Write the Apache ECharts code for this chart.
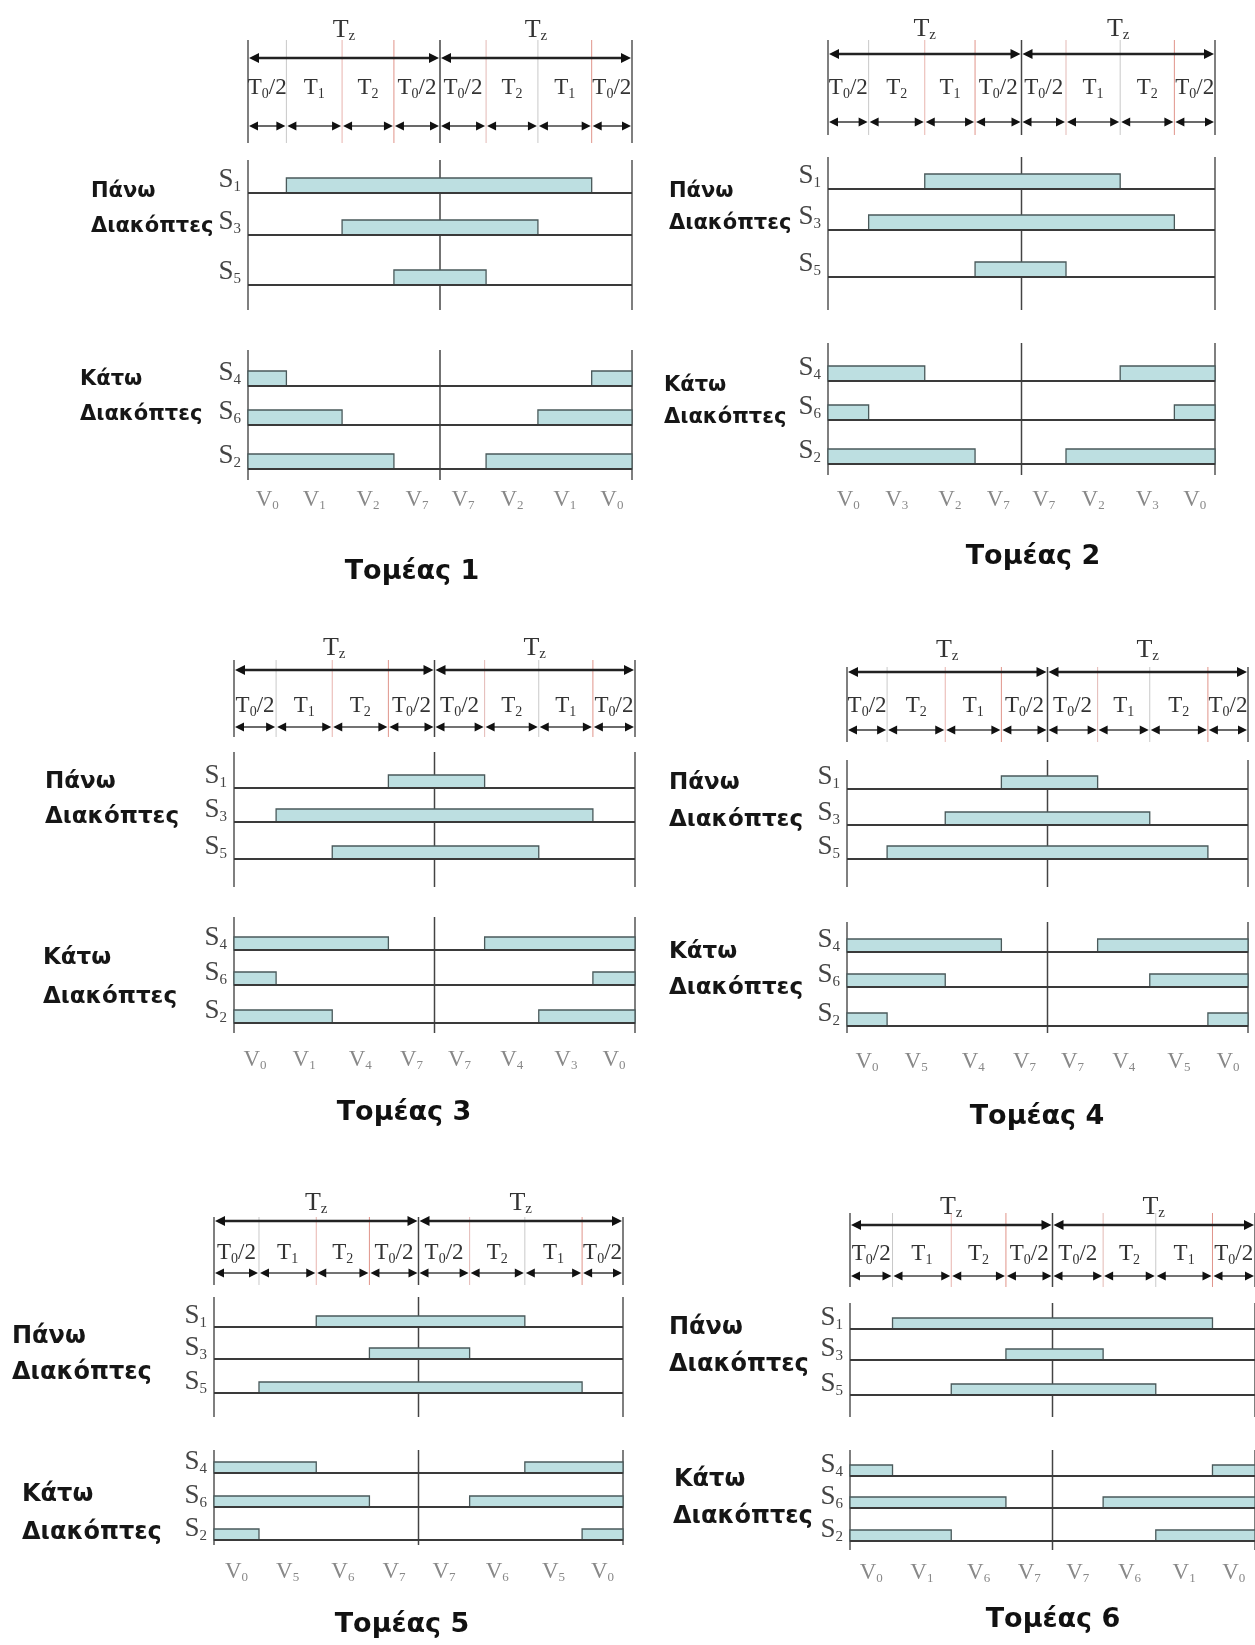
<!DOCTYPE html>
<html>
<head>
<meta charset="utf-8">
<title>Τομείς SVPWM</title>
<script src="https://cdn.jsdelivr.net/npm/echarts@6/dist/echarts.min.js"></script>
<style>
  html, body { margin: 0; padding: 0; background: #fff; }
  #chart { width: 1255px; height: 1645px; }
</style>
</head>
<body>
<div id="chart"></div>
<script>
// switching instants inside one period, in units of Tz (0..2)
const edges1 = [0, 0.20, 0.49, 0.76, 1, 1.24, 1.51, 1.79, 2];
const edges2 = [0, 0.21, 0.50, 0.76, 1, 1.23, 1.51, 1.79, 2];
const edges3 = [0, 0.21, 0.49, 0.77, 1, 1.25, 1.52, 1.79, 2];
const edges4 = [0, 0.20, 0.49, 0.77, 1, 1.25, 1.51, 1.80, 2];
const edges5 = [0, 0.22, 0.50, 0.76, 1, 1.25, 1.52, 1.80, 2];
const edges6 = [0, 0.21, 0.50, 0.77, 1, 1.25, 1.51, 1.79, 2];

// segment labels
const segs1 = ['T0/2', 'T1', 'T2', 'T0/2', 'T0/2', 'T2', 'T1', 'T0/2'];
const segs2 = ['T0/2', 'T2', 'T1', 'T0/2', 'T0/2', 'T1', 'T2', 'T0/2'];
const segs3 = ['T0/2', 'T1', 'T2', 'T0/2', 'T0/2', 'T2', 'T1', 'T0/2'];
const segs4 = ['T0/2', 'T2', 'T1', 'T0/2', 'T0/2', 'T1', 'T2', 'T0/2'];
const segs5 = ['T0/2', 'T1', 'T2', 'T0/2', 'T0/2', 'T2', 'T1', 'T0/2'];
const segs6 = ['T0/2', 'T1', 'T2', 'T0/2', 'T0/2', 'T2', 'T1', 'T0/2'];

// voltage vectors under each segment
const vecs1 = ['V0', 'V1', 'V2', 'V7', 'V7', 'V2', 'V1', 'V0'];
const vecs2 = ['V0', 'V3', 'V2', 'V7', 'V7', 'V2', 'V3', 'V0'];
const vecs3 = ['V0', 'V1', 'V4', 'V7', 'V7', 'V4', 'V3', 'V0'];
const vecs4 = ['V0', 'V5', 'V4', 'V7', 'V7', 'V4', 'V5', 'V0'];
const vecs5 = ['V0', 'V5', 'V6', 'V7', 'V7', 'V6', 'V5', 'V0'];
const vecs6 = ['V0', 'V1', 'V6', 'V7', 'V7', 'V6', 'V1', 'V0'];

// edge index where S1, S3, S5 turn on (they turn off at the mirrored edge);
// S4, S6, S2 are the complements
const upperOn1 = [1, 2, 3];
const upperOn2 = [2, 1, 3];
const upperOn3 = [3, 1, 2];
const upperOn4 = [3, 2, 1];
const upperOn5 = [2, 3, 1];
const upperOn6 = [1, 3, 2];

const upperNames = ['S1', 'S3', 'S5'];
const lowerNames = ['S4', 'S6', 'S2'];
const groupNames = ['Πάνω', 'Διακόπτες', 'Κάτω', 'Διακόπτες'];
const sectorNames = ['Τομέας 1', 'Τομέας 2', 'Τομέας 3', 'Τομέας 4', 'Τομέας 5', 'Τομέας 6'];

const sectors = [
  { edges: edges1, segs: segs1, vecs: vecs1, on: upperOn1 },
  { edges: edges2, segs: segs2, vecs: vecs2, on: upperOn2 },
  { edges: edges3, segs: segs3, vecs: vecs3, on: upperOn3 },
  { edges: edges4, segs: segs4, vecs: vecs4, on: upperOn4 },
  { edges: edges5, segs: segs5, vecs: vecs5, on: upperOn5 },
  { edges: edges6, segs: segs6, vecs: vecs6, on: upperOn6 }
];

// page layout of each panel (pixels)
const panels = [
  { left: 248, right: 632, tz: 30, arrow: 58, seg: 88, small: 126, div: [40, 143],
    up: [160, 310], rowsUp: [193, 235, 285], low: [350, 480], rowsLow: [386, 425, 469],
    v: 500, barH: 15, sOff: 13, lf: 21, title: [412, 572],
    labels: [[91, 192], [91, 227], [80, 380], [80, 415]] },
  { left: 828, right: 1215, tz: 29, arrow: 54, seg: 88, small: 122, div: [40, 135],
    up: [157, 310], rowsUp: [189, 230, 277], low: [343, 475], rowsLow: [381, 420, 464],
    v: 500, barH: 15, sOff: 13, lf: 21, title: [1033, 557],
    labels: [[669, 192], [669, 224], [664, 386], [664, 418]] },
  { left: 234, right: 635, tz: 648, arrow: 670, seg: 706, small: 727, div: [660, 737],
    up: [752, 887], rowsUp: [788, 822, 859], low: [917, 1033], rowsLow: [950, 985, 1023],
    v: 1060, barH: 13, sOff: 12, lf: 23, title: [404, 1113],
    labels: [[45, 782], [45, 817], [43, 958], [43, 997]] },
  { left: 847, right: 1248, tz: 650, arrow: 672, seg: 706, small: 730, div: [667, 742],
    up: [760, 887], rowsUp: [789, 825, 859], low: [922, 1033], rowsLow: [952, 987, 1026],
    v: 1062, barH: 13, sOff: 12, lf: 23, title: [1037, 1117],
    labels: [[669, 783], [669, 820], [669, 952], [669, 988]] },
  { left: 214, right: 623, tz: 1203, arrow: 1221, seg: 1253, small: 1273, div: [1217, 1285],
    up: [1297, 1417], rowsUp: [1327, 1359, 1393], low: [1450, 1545], rowsLow: [1473, 1507, 1540],
    v: 1572, barH: 11, sOff: 11, lf: 24, title: [402, 1625],
    labels: [[12, 1337], [12, 1373], [22, 1495], [22, 1533]] },
  { left: 850, right: 1258, tz: 1207, arrow: 1225, seg: 1254, small: 1276, div: [1213, 1287],
    up: [1303, 1417], rowsUp: [1329, 1360, 1395], low: [1450, 1550], rowsLow: [1476, 1508, 1541],
    v: 1573, barH: 11, sOff: 11, lf: 24, title: [1053, 1620],
    labels: [[669, 1328], [669, 1365], [674, 1480], [673, 1517]] }
];

const divColors = ['#555', '#c9c9c9', '#e8b4ae', '#e0948a', '#444', '#e3b9b5', '#c9c9c9', '#e0948a', '#555'];

function richText(s) {
  // 'T0/2' -> T with subscript 0 then /2
  const m = s.match(/^([A-Z])(\w)(.*)$/);
  return '{a|' + m[1] + '}{b|' + m[2] + '}' + (m[3] ? '{a|' + m[3] + '}' : '');
}

function richStyle(size, sub, color) {
  return {
    a: { fontSize: size, fontFamily: 'Liberation Serif', fill: color },
    b: { fontSize: sub, fontFamily: 'Liberation Serif', fill: color, padding: [Math.round(size * 0.5), 0, 0, 0] }
  };
}

const textStyles = {
  tz: richStyle(26, 15, '#333'),
  seg: richStyle(23, 14, '#333'),
  vec: richStyle(23, 13, '#888'),
  sw: richStyle(27, 15, '#444')
};

const grids = [], xAxes = [], yAxes = [], series = [], graphic = [];

panels.forEach((L, p) => {
  const S = sectors[p];
  grids.push({ left: L.left, top: 0, width: L.right - L.left, height: 1645 });
  xAxes.push({ type: 'value', gridIndex: p, min: 0, max: 2, show: false });
  yAxes.push({ type: 'value', gridIndex: p, min: 0, max: 1645, inverse: true, show: false });
  const base = { type: 'custom', xAxisIndex: p, yAxisIndex: p, silent: true, animation: false, clip: false };

  // vertical lines: header dividers and block borders
  const frame = [];
  S.edges.forEach((t, i) => frame.push([t, L.div[0], L.div[1], i]));
  [0, 1, 2].forEach(t => {
    frame.push([t, L.up[0], L.up[1], t === 1 ? 4 : 0]);
    frame.push([t, L.low[0], L.low[1], t === 1 ? 4 : 0]);
  });
  series.push(Object.assign({}, base, {
    data: frame,
    renderItem: (params, api) => {
      const a = api.coord([api.value(0), api.value(1)]);
      const b = api.coord([api.value(0), api.value(2)]);
      const k = api.value(3);
      const outer = k % 4 === 0;
      return {
        type: 'line',
        shape: { x1: a[0], y1: a[1], x2: b[0], y2: b[1] },
        style: { stroke: divColors[k], lineWidth: outer ? 1.5 : 1 }
      };
    }
  }));

  // switch-on bars
  const bars = [];
  S.on.forEach((k, r) => {
    bars.push([S.edges[k], S.edges[8 - k], L.rowsUp[r]]);
    bars.push([S.edges[0], S.edges[k], L.rowsLow[r]]);
    bars.push([S.edges[8 - k], S.edges[8], L.rowsLow[r]]);
  });
  series.push(Object.assign({}, base, {
    data: bars,
    renderItem: (params, api) => {
      const a = api.coord([api.value(0), api.value(2)]);
      const b = api.coord([api.value(1), api.value(2)]);
      return {
        type: 'rect',
        shape: { x: a[0], y: a[1] - L.barH, width: b[0] - a[0], height: L.barH },
        style: { fill: '#bddfe1', stroke: '#4a5a5b', lineWidth: 1.3 }
      };
    }
  }));

  // baselines of every switch
  const rows = L.rowsUp.concat(L.rowsLow);
  series.push(Object.assign({}, base, {
    data: rows.map(y => [y]),
    renderItem: (params, api) => {
      const a = api.coord([0, api.value(0)]);
      const b = api.coord([2, api.value(0)]);
      return {
        type: 'line',
        shape: { x1: a[0], y1: a[1], x2: b[0], y2: b[1] },
        style: { stroke: '#3a3a3a', lineWidth: 1.8 }
      };
    }
  }));

  // dimension arrows
  const arrows = [[0, 1, L.arrow, 1], [1, 2, L.arrow, 1]];
  for (let i = 0; i < 8; i++) arrows.push([S.edges[i], S.edges[i + 1], L.small, 0]);
  series.push(Object.assign({}, base, {
    data: arrows,
    renderItem: (params, api) => {
      const a = api.coord([api.value(0), api.value(2)]);
      const b = api.coord([api.value(1), api.value(2)]);
      const big = api.value(3) === 1;
      const hl = big ? 10 : 9, hw = big ? 5 : 4.5;
      const x1 = a[0] + 1, x2 = b[0] - 1, y = a[1];
      return {
        type: 'group',
        children: [
          { type: 'line', shape: { x1: x1 + hl - 1, y1: y, x2: x2 - hl + 1, y2: y },
            style: { stroke: big ? '#222' : '#444', lineWidth: big ? 2.6 : 1.6 } },
          { type: 'polygon', shape: { points: [[x1, y], [x1 + hl, y - hw], [x1 + hl, y + hw]] },
            style: { fill: '#111' } },
          { type: 'polygon', shape: { points: [[x2, y], [x2 - hl, y - hw], [x2 - hl, y + hw]] },
            style: { fill: '#111' } }
        ]
      };
    }
  }));

  // serif labels
  const texts = [], strs = [], kinds = [];
  [0.5, 1.5].forEach(t => { texts.push([t, L.tz]); strs.push('Tz'); kinds.push('tz'); });
  S.segs.forEach((s, i) => {
    texts.push([(S.edges[i] + S.edges[i + 1]) / 2, L.seg]); strs.push(s); kinds.push('seg');
  });
  S.vecs.forEach((s, i) => {
    texts.push([(S.edges[i] + S.edges[i + 1]) / 2, L.v]); strs.push(s); kinds.push('vec');
  });
  upperNames.forEach((s, r) => { texts.push([0, L.rowsUp[r] - L.sOff]); strs.push(s); kinds.push('sw'); });
  lowerNames.forEach((s, r) => { texts.push([0, L.rowsLow[r] - L.sOff]); strs.push(s); kinds.push('sw'); });
  series.push(Object.assign({}, base, {
    data: texts,
    renderItem: (params, api) => {
      const i = params.dataIndex;
      const c = api.coord([api.value(0), api.value(1)]);
      const sw = kinds[i] === 'sw';
      return {
        type: 'text',
        x: c[0] + (sw ? -7 : 0),
        y: c[1],
        style: {
          text: richText(strs[i]),
          rich: textStyles[kinds[i]],
          align: sw ? 'right' : 'center',
          verticalAlign: 'middle'
        }
      };
    }
  }));

  // group names and sector title
  L.labels.forEach((pos, j) => {
    graphic.push({
      type: 'text', x: pos[0], y: pos[1], silent: true,
      style: { text: groupNames[j], font: 'bold ' + L.lf + 'px "DejaVu Sans"', fill: '#161616',
               align: 'left', verticalAlign: 'middle' }
    });
  });
  graphic.push({
    type: 'text', x: L.title[0], y: L.title[1], silent: true,
    style: { text: sectorNames[p], font: 'bold 27px "DejaVu Sans"', fill: '#111',
             align: 'center', verticalAlign: 'middle' }
  });
});

const chart = echarts.init(document.getElementById('chart'));
chart.setOption({
  backgroundColor: '#fff',
  animation: false,
  grid: grids,
  xAxis: xAxes,
  yAxis: yAxes,
  series: series,
  graphic: graphic
});
</script>
</body>
</html>
